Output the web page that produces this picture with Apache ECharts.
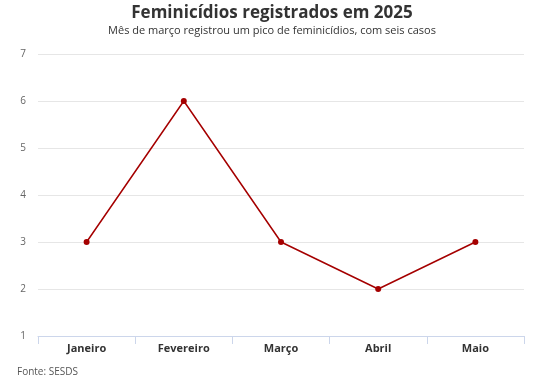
<!DOCTYPE html>
<html><head><meta charset="utf-8">
<script src="https://cdn.jsdelivr.net/npm/echarts@6/dist/echarts.min.js"></script>
<style>html,body{margin:0;padding:0;background:#fff}#c{width:544px;height:376px}</style>
</head><body><div id="c"></div>
<script>
const categories = ["Janeiro","Fevereiro","Março","Abril","Maio"];
const casos = [3,6,3,2,3];
const chart = echarts.init(document.getElementById('c'));
chart.setOption({
  animation:false,
  textStyle:{fontFamily:'Open Sans'},
  title:[
    {text:'Feminicídios registrados em 2025',left:'center',top:0,
     textStyle:{fontFamily:'Open Sans',fontSize:17,fontWeight:'bold',color:'#333'}},
    {text:'Mês de março registrou um pico de feminicídios, com seis casos',left:'center',top:20,
     textStyle:{fontFamily:'Open Sans',fontSize:11,fontWeight:'normal',color:'#333'}},
    {text:'Fonte: SESDS',left:12,top:362,
     textStyle:{fontFamily:'Open Sans',fontSize:10,fontWeight:'normal',color:'#555'}}
  ],
  grid:{left:38,right:20,top:54,bottom:40},
  xAxis:{type:'category',data:categories,boundaryGap:true,
    axisLine:{lineStyle:{color:'#ccd6eb'}},
    axisTick:{show:true,length:8,lineStyle:{color:'#ccd6eb'}},
    axisLabel:{fontFamily:'Open Sans',fontSize:11,fontWeight:'bold',color:'#333',margin:7}},
  yAxis:{type:'value',min:1,max:7,interval:1,
    axisLine:{show:false},axisTick:{show:false},
    splitLine:{lineStyle:{color:'#e6e6e6'}},
    axisLabel:{fontFamily:'Open Sans',fontSize:10,color:'#666',margin:12}},
  series:[{type:'line',data:casos,symbol:'circle',symbolSize:6,
    lineStyle:{color:'#a50000',width:1.5},itemStyle:{color:'#a50000'}}]
});
</script></body></html>
